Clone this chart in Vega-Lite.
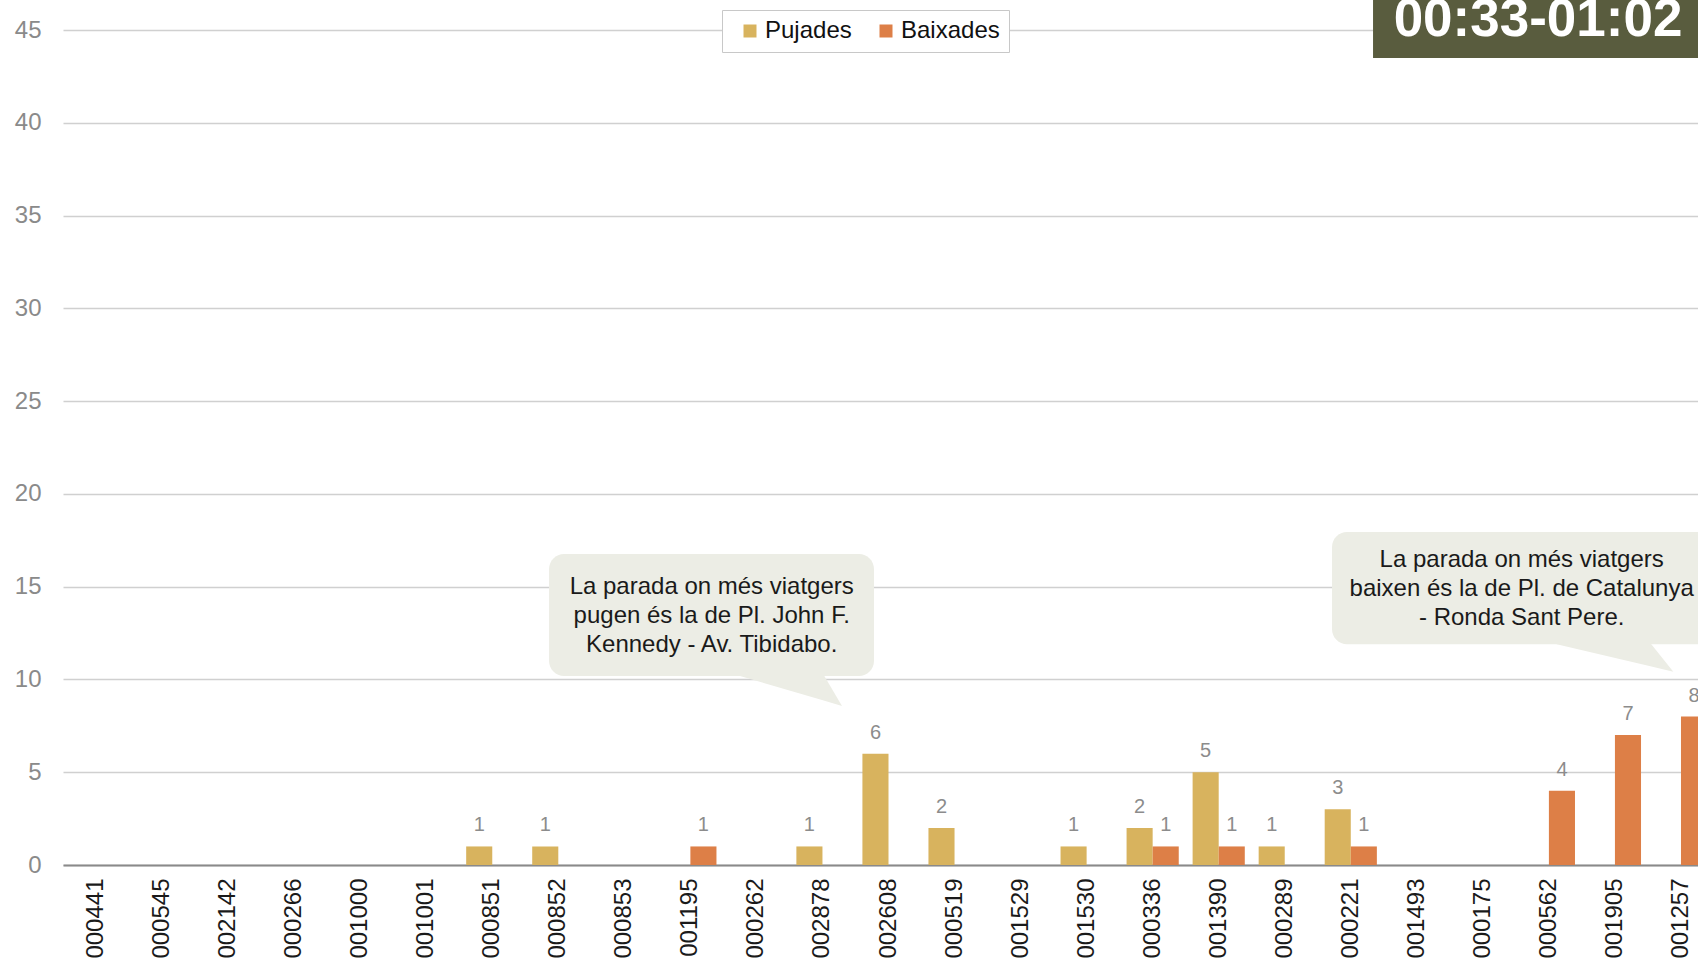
{
  "$schema": "https://vega.github.io/schema/vega-lite/v6.json",
  "width": 1635,
  "height": 835,
  "autosize": {"type": "none"},
  "padding": {"left": 63, "top": 30, "right": 0, "bottom": 96},
  "background": "white",
  "config": {"font": "Liberation Sans", "view": {"stroke": null}},
  "datasets": {
    "bars": [
      {"stop": "000441", "series": "Pujades", "value": 0}, {"stop": "000441", "series": "Baixades", "value": 0},
      {"stop": "000545", "series": "Pujades", "value": 0}, {"stop": "000545", "series": "Baixades", "value": 0},
      {"stop": "002142", "series": "Pujades", "value": 0}, {"stop": "002142", "series": "Baixades", "value": 0},
      {"stop": "000266", "series": "Pujades", "value": 0}, {"stop": "000266", "series": "Baixades", "value": 0},
      {"stop": "001000", "series": "Pujades", "value": 0}, {"stop": "001000", "series": "Baixades", "value": 0},
      {"stop": "001001", "series": "Pujades", "value": 0}, {"stop": "001001", "series": "Baixades", "value": 0},
      {"stop": "000851", "series": "Pujades", "value": 1}, {"stop": "000851", "series": "Baixades", "value": 0},
      {"stop": "000852", "series": "Pujades", "value": 1}, {"stop": "000852", "series": "Baixades", "value": 0},
      {"stop": "000853", "series": "Pujades", "value": 0}, {"stop": "000853", "series": "Baixades", "value": 0},
      {"stop": "001195", "series": "Pujades", "value": 0}, {"stop": "001195", "series": "Baixades", "value": 1},
      {"stop": "000262", "series": "Pujades", "value": 0}, {"stop": "000262", "series": "Baixades", "value": 0},
      {"stop": "002878", "series": "Pujades", "value": 1}, {"stop": "002878", "series": "Baixades", "value": 0},
      {"stop": "002608", "series": "Pujades", "value": 6}, {"stop": "002608", "series": "Baixades", "value": 0},
      {"stop": "000519", "series": "Pujades", "value": 2}, {"stop": "000519", "series": "Baixades", "value": 0},
      {"stop": "001529", "series": "Pujades", "value": 0}, {"stop": "001529", "series": "Baixades", "value": 0},
      {"stop": "001530", "series": "Pujades", "value": 1}, {"stop": "001530", "series": "Baixades", "value": 0},
      {"stop": "000336", "series": "Pujades", "value": 2}, {"stop": "000336", "series": "Baixades", "value": 1},
      {"stop": "001390", "series": "Pujades", "value": 5}, {"stop": "001390", "series": "Baixades", "value": 1},
      {"stop": "000289", "series": "Pujades", "value": 1}, {"stop": "000289", "series": "Baixades", "value": 0},
      {"stop": "000221", "series": "Pujades", "value": 3}, {"stop": "000221", "series": "Baixades", "value": 1},
      {"stop": "001493", "series": "Pujades", "value": 0}, {"stop": "001493", "series": "Baixades", "value": 0},
      {"stop": "000175", "series": "Pujades", "value": 0}, {"stop": "000175", "series": "Baixades", "value": 0},
      {"stop": "000562", "series": "Pujades", "value": 0}, {"stop": "000562", "series": "Baixades", "value": 4},
      {"stop": "001905", "series": "Pujades", "value": 0}, {"stop": "001905", "series": "Baixades", "value": 7},
      {"stop": "001257", "series": "Pujades", "value": 0}, {"stop": "001257", "series": "Baixades", "value": 8}
    ],
    "boxes": [
      {"x1": 6.86, "x2": 11.78, "y1": 16.76, "y2": 10.19},
      {"x1": 18.716, "x2": 25.5, "y1": 17.946, "y2": 11.894}
    ],
    "pointers": [
      {"cid": 1, "px": 9.752, "py": 10.4, "py2": 10.185},
      {"cid": 1, "px": 10.993, "py": 10.4, "py2": 8.886},
      {"cid": 1, "px": 11.296, "py": 8.569, "py2": 8.569},
      {"cid": 2, "px": 22.118, "py": 12.1, "py2": 11.894},
      {"cid": 2, "px": 23.505, "py": 12.1, "py2": 10.734},
      {"cid": 2, "px": 23.884, "py": 10.417, "py2": 10.417}
    ],
    "notes": [
      {"tx": 9.323, "ty": 14.998, "label": "La parada on més viatgers\npugen és la de Pl. John F.\nKennedy - Av. Tibidabo."},
      {"tx": 21.588, "ty": 16.437, "label": "La parada on més viatgers\nbaixen és la de Pl. de Catalunya\n- Ronda Sant Pere."}
    ],
    "stamp": [
      {"x1": 19.337, "x2": 25.5, "y1": 43.49, "y2": 48, "tx": 21.835, "ty": 44.676, "label": "00:33-01:02"}
    ]
  },
  "resolve": {"scale": {"x": "independent"}, "axis": {"x": "independent", "y": "independent"}},
  "layer": [
    {
      "data": {"name": "bars"},
      "encoding": {
        "x": {
          "field": "stop", "type": "nominal", "sort": null,
          "scale": {
            "domain": ["000441","000545","002142","000266","001000","001001","000851","000852","000853","001195","000262","002878","002608","000519","001529","001530","000336","001390","000289","000221","001493","000175","000562","001905","001257"],
            "range": [0, 1651], "paddingInner": 0.21, "paddingOuter": 0.105
          },
          "axis": {
            "title": null, "labelAngle": 270, "labelFontSize": 24, "labelColor": "#1a1a1a",
            "ticks": false, "domainColor": "#8a8a8a", "domainWidth": 2, "labelPadding": 13,
            "grid": false, "labelOverlap": false
          }
        },
        "xOffset": {"field": "series", "type": "nominal", "scale": {"domain": ["Pujades", "Baixades"], "paddingInner": 0, "paddingOuter": 0}},
        "y": {
          "field": "value", "type": "quantitative",
          "scale": {"domain": [0, 45], "nice": false, "zero": true},
          "axis": {
            "title": null, "values": [0,5,10,15,20,25,30,35,40,45], "grid": true, "gridColor": "#d0d0d0",
            "gridWidth": 1.5, "ticks": false, "domain": false, "labelFontSize": 24, "labelColor": "#8a8a8a",
            "labelPadding": 22
          }
        }
      },
      "layer": [
        {
          "mark": {"type": "bar"},
          "encoding": {
            "color": {
              "field": "series", "type": "nominal",
              "scale": {"domain": ["Pujades", "Baixades"], "range": ["#D8B35E", "#DD7F47"]},
              "legend": {
                "orient": "none", "legendX": 659, "legendY": -20, "direction": "horizontal",
                "title": " ", "titleOrient": "left", "titleFontSize": 23, "titlePadding": 7,
                "fillColor": "white", "strokeColor": "#c8c8c8", "padding": 9,
                "labelFontSize": 24, "labelColor": "#111111", "symbolType": "square",
                "symbolSize": 169, "symbolStrokeWidth": 0, "labelOffset": 3, "columnPadding": 22
              }
            }
          }
        },
        {
          "transform": [{"filter": "datum.value > 0"}],
          "mark": {"type": "text", "baseline": "alphabetic", "dy": -15, "fontSize": 20, "color": "#8c8c8c"},
          "encoding": {"text": {"field": "value", "type": "quantitative"}}
        }
      ]
    },
    {
      "layer": [
        {
          "data": {"name": "boxes"},
          "mark": {"type": "rect", "cornerRadius": 15, "color": "#ECEDE5"},
          "encoding": {
            "x": {"field": "x1", "type": "quantitative", "scale": {"domain": [-0.5, 24.5], "range": [0, 1651], "nice": false, "zero": false}, "axis": null},
            "x2": {"field": "x2"},
            "y": {"field": "y1", "type": "quantitative", "scale": {"domain": [0, 45], "nice": false}, "axis": null},
            "y2": {"field": "y2"}
          }
        },
        {
          "data": {"name": "pointers"},
          "mark": {"type": "area", "color": "#ECEDE5", "interpolate": "linear"},
          "encoding": {
            "x": {"field": "px", "type": "quantitative", "scale": {"domain": [-0.5, 24.5], "range": [0, 1651], "nice": false, "zero": false}, "axis": null},
            "y": {"field": "py", "type": "quantitative", "scale": {"domain": [0, 45], "nice": false}, "axis": null},
            "y2": {"field": "py2"},
            "detail": {"field": "cid", "type": "nominal"}
          }
        },
        {
          "data": {"name": "notes"},
          "mark": {"type": "text", "fontSize": 24, "lineHeight": 29, "lineBreak": "\n", "align": "center", "baseline": "middle", "color": "#1a1a1a"},
          "encoding": {
            "x": {"field": "tx", "type": "quantitative", "scale": {"domain": [-0.5, 24.5], "range": [0, 1651], "nice": false, "zero": false}, "axis": null},
            "y": {"field": "ty", "type": "quantitative", "scale": {"domain": [0, 45], "nice": false}, "axis": null},
            "text": {"field": "label", "type": "nominal"}
          }
        },
        {
          "data": {"name": "stamp"},
          "mark": {"type": "rect", "color": "#595C3E"},
          "encoding": {
            "x": {"field": "x1", "type": "quantitative", "scale": {"domain": [-0.5, 24.5], "range": [0, 1651], "nice": false, "zero": false}, "axis": null},
            "x2": {"field": "x2"},
            "y": {"field": "y1", "type": "quantitative", "scale": {"domain": [0, 45], "nice": false}, "axis": null},
            "y2": {"field": "y2"}
          }
        },
        {
          "data": {"name": "stamp"},
          "mark": {"type": "text", "fontSize": 53, "fontWeight": "bold", "align": "center", "baseline": "alphabetic", "color": "white"},
          "encoding": {
            "x": {"field": "tx", "type": "quantitative", "scale": {"domain": [-0.5, 24.5], "range": [0, 1651], "nice": false, "zero": false}, "axis": null},
            "y": {"field": "ty", "type": "quantitative", "scale": {"domain": [0, 45], "nice": false}, "axis": null},
            "text": {"field": "label", "type": "nominal"}
          }
        }
      ]
    }
  ]
}
